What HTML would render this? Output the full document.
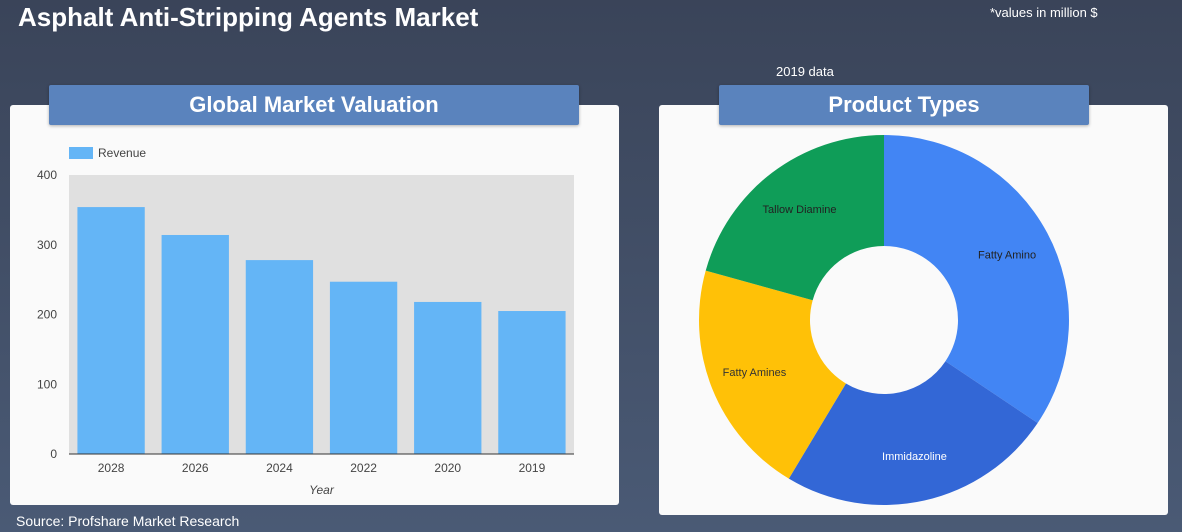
<!DOCTYPE html>
<html><head><meta charset="utf-8"><style>
body{margin:0;width:1182px;height:532px;overflow:hidden;background:linear-gradient(180deg,#3a4459,#4a5a75);font-family:"Liberation Sans",sans-serif;position:relative}
.abs{position:absolute}
.card{background:#fafafa;border-radius:3px}
.banner{background:#5a83bd;color:#fff;font-weight:bold;font-size:22px;text-align:center;line-height:40px;border-radius:2px;box-shadow:0 1px 3px rgba(0,0,0,.3)}
</style></head><body>
<div class="abs" style="left:18px;top:2px;color:#fff;font-weight:bold;font-size:26px">Asphalt Anti-Stripping Agents Market</div>
<div class="abs" style="left:990px;top:5px;color:#fff;font-size:13px">*values in million $</div>
<div class="abs" style="left:776px;top:64px;color:#fff;font-size:13px">2019 data</div>
<div class="abs card" style="left:10px;top:105px;width:609px;height:400px"></div>
<div class="abs card" style="left:659px;top:105px;width:509px;height:410px"></div>
<div class="abs banner" style="left:49px;top:85px;width:530px;height:40px">Global Market Valuation</div>
<div class="abs banner" style="left:719px;top:85px;width:370px;height:40px">Product Types</div>
<div class="abs" style="left:16px;top:513px;color:#fff;font-size:14px">Source: Profshare Market Research</div>
<svg class="abs" style="left:0;top:0" width="1182" height="532" id="svg"></svg>
<script>
const years=["2028","2026","2024","2022","2020","2019"];
const revenue=[354,314,278,247,218,205];
const yTicks=[0,100,200,300,400];
const sliceLabels=["Fatty Amino","Immidazoline","Fatty Amines","Tallow Diamine"];
const sliceValues=[34.4,24.2,20.7,20.7];
const sliceColors=["#4285f4","#3367d6","#ffc107","#0f9d58"];
const labelColors=["#222","#fff","#333","#222"];
const NS="http://www.w3.org/2000/svg",svg=document.getElementById('svg');
function mk(t,a,p){const e=document.createElementNS(NS,t);for(const k in a)e.setAttribute(k,a[k]);(p||svg).appendChild(e);return e;}
const L=69,R=574,T=175,B=454,yMax=400;
const y=v=>B-(v/yMax)*(B-T);
const band=(R-L)/years.length;
let bg=mk('rect',{x:L,y:T,width:R-L,height:B-T,fill:'#e0e0e0'});

yTicks.forEach(t=>{let e=mk('text',{x:L-12,y:y(t)+4,'text-anchor':'end','font-size':12,fill:'#444'});e.textContent=t;
});
years.forEach((yr,i)=>{const x=L+band*i+band*0.1,w=band*0.8;
let r=mk('rect',{x:x,y:y(revenue[i]),width:w,height:B-y(revenue[i]),fill:'#64b5f6'});

let t=mk('text',{x:x+w/2,y:B+18,'text-anchor':'middle','font-size':12,fill:'#444'});t.textContent=yr;
});
let ax=mk('line',{x1:L,x2:R,y1:B,y2:B,stroke:'#333','stroke-width':1});

let xt=mk('text',{x:(L+R)/2,y:494,'text-anchor':'middle','font-size':12,'font-style':'italic',fill:'#444'});xt.textContent='Year';

let lg=mk('rect',{x:69,y:147,width:24,height:12,fill:'#64b5f6'});

let lt=mk('text',{x:98,y:157,'font-size':12,fill:'#444'});lt.textContent='Revenue';

// donut
const cx=884,cy=320,ro=185,ri=74;
const tot=sliceValues.reduce((a,b)=>a+b,0);
let a0=0;
const pt=(a,r)=>[cx+r*Math.sin(a),cy-r*Math.cos(a)];
sliceValues.forEach((v,i)=>{const a1=a0+v/tot*2*Math.PI,lg=(a1-a0)>Math.PI?1:0;
const [x1,y1]=pt(a0,ro),[x2,y2]=pt(a1,ro),[x3,y3]=pt(a1,ri),[x4,y4]=pt(a0,ri);
let p=mk('path',{d:`M${x1},${y1}A${ro},${ro} 0 ${lg} 1 ${x2},${y2}L${x3},${y3}A${ri},${ri} 0 ${lg} 0 ${x4},${y4}Z`,fill:sliceColors[i]});

const am=(a0+a1)/2,[lx,ly]=pt(am,(ro+ri)/2+10);
let t=mk('text',{x:lx,y:ly+4,'text-anchor':'middle','font-size':11,fill:labelColors[i]});t.textContent=sliceLabels[i];

a0=a1;});
</script>
</body></html>
